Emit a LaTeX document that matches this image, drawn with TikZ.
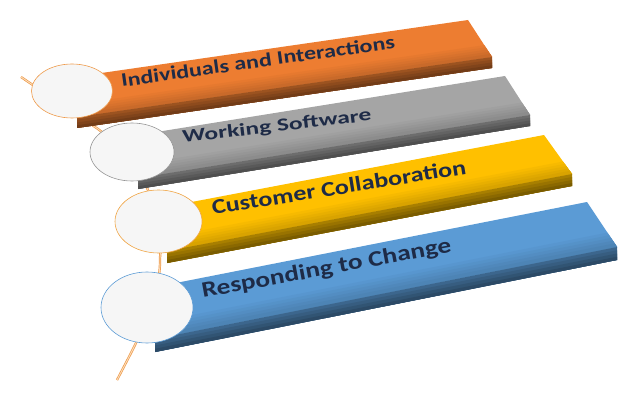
\documentclass[tikz,border=0pt]{standalone}
\usepackage{fontspec}
\setmainfont{Carlito}
\usetikzlibrary{calc,shapes.geometric}
\definecolor{aorange}{HTML}{ED7D31}
\definecolor{agray}{HTML}{A5A5A5}
\definecolor{ayellow}{HTML}{FFC000}
\definecolor{ablue}{HTML}{5B9BD5}
\definecolor{atext}{HTML}{1E2B47}
\definecolor{spineorange}{HTML}{EE9A4A}
\definecolor{spinelight}{HTML}{FBDDBB}
\definecolor{discfill}{HTML}{F6F6F6}
\newcommand{\agbar}[6]{%
  \fill[#1] #2 -- #3 -- #4 -- #5 -- cycle;
  \foreach \f/\m in {0.32/97,0.26/94,0.20/91,0.14/88,0.08/85}{
    \fill[#1!\m!black] ($#5!\f!#2$) -- ($#4!\f!#3$) -- #4 -- #5 -- cycle;
  }
  \foreach \f/\m in {0/66,0.25/60,0.5/54,0.75/48}{
    \fill[#1!\m!black] ($#5+(0,#6*\f)$) -- ($#4+(0,#6*\f)$) -- ($#4+(0,#6)$) -- ($#5+(0,#6)$) -- cycle;
  }
}
\tikzset{
  disc/.style={ellipse, fill=discfill, line width=0.6pt, inner sep=0pt},
  spine/.style={draw=spineorange, double=spinelight, double distance=0.9pt, line width=0.7pt},
  lbl/.style={anchor=base west, inner sep=0pt, text=atext, font=\bfseries},
}
\begin{document}
\begin{tikzpicture}[x=1pt,y=-1pt]
\useasboundingbox (0,0) rectangle (640,401);
% spine
\coordinate (s0) at (21,77);
\coordinate (s1) at (98,129);
\coordinate (s2) at (160,258);
\coordinate (s3) at (117,380);
\draw[spine] (s0) -- (s1) .. controls (140,160) and (165,210) .. (s2)
  .. controls (161,300) and (135,345) .. (s3);
% bar 1
\agbar{aorange}{(53,80)}{(468,20)}{(492,57)}{(77,117)}{11}
\node[disc, draw=spineorange, minimum width=81pt, minimum height=54pt] (c1) at (72,91) {};
\node[lbl, rotate=8.1] (t1) at (122,87) {\fontsize{19}{19}\selectfont\resizebox{276pt}{\height}{Individuals and Interactions}};
% bar 2
\agbar{agray}{(113,139)}{(505,76)}{(530,115)}{(138,178)}{11}
\node[disc, draw=agray!90!black, minimum width=84pt, minimum height=58pt] (c2) at (132,152) {};
\node[lbl, rotate=6.8] (t2) at (183,143) {\fontsize{18}{18}\selectfont\resizebox{190pt}{\height}{Working Software}};
% bar 3
\agbar{ayellow}{(139,212)}{(544,135)}{(572,174)}{(167,251)}{12}
\node[disc, draw=spineorange!90!yellow, minimum width=87pt, minimum height=63pt] (c3) at (158.5,221.5) {};
\node[lbl, rotate=9.2] (t3) at (213,215) {\fontsize{21}{21}\selectfont\resizebox{257pt}{\height}{Customer Collaboration}};
% bar 4
\agbar{ablue}{(125,293)}{(587,202)}{(617,247)}{(155,339)}{13}
\node[disc, draw=ablue, minimum width=92pt, minimum height=71pt] (c4) at (147,307.5) {};
\node[lbl, rotate=10.5] (t4) at (203,298) {\fontsize{22}{22}\selectfont\resizebox{253pt}{\height}{Responding to Change}};
\end{tikzpicture}
\end{document}
